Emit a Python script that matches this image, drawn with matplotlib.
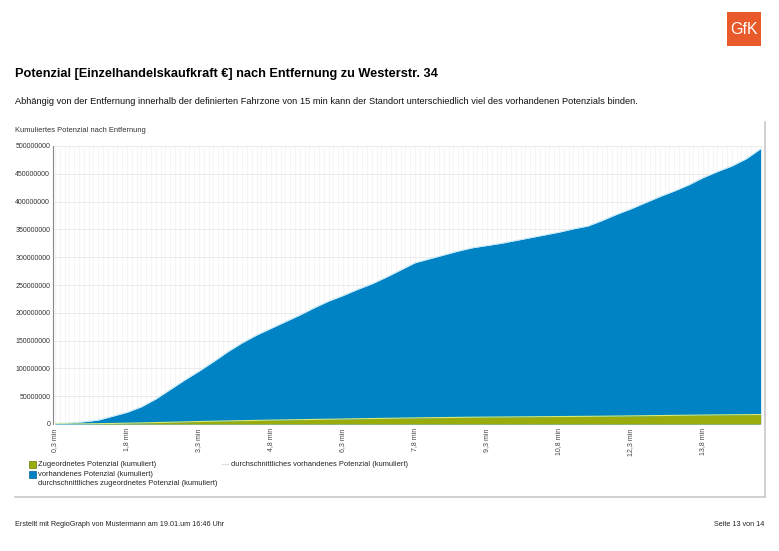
import numpy as np
import matplotlib
matplotlib.use("Agg")
import matplotlib.pyplot as plt
from matplotlib.patches import Rectangle
from matplotlib.lines import Line2D

plt.rcParams['font.family'] = ['Liberation Sans', 'DejaVu Sans']

# ---- data (minutes, values in EUR) ----
minutes = [0.3, 0.6, 0.9, 1.2, 1.5, 1.8, 2.1, 2.4, 2.7, 3.0,
           3.3, 3.6, 3.9, 4.2, 4.5, 4.8, 5.1, 5.4, 5.7, 6.0,
           6.3, 6.6, 6.9, 7.2, 7.5, 7.8, 8.1, 8.4, 8.7, 9.0,
           9.3, 9.6, 9.9, 10.2, 10.5, 10.8, 11.1, 11.4, 11.7, 12.0,
           12.3, 12.6, 12.9, 13.2, 13.5, 13.8, 14.1, 14.4, 14.7, 15.0]
vorhanden_mio = [1, 2, 4, 7, 14, 21, 31, 45, 62, 79,
                 95, 112, 130, 146, 160, 172, 184, 196, 209, 221,
                 231, 242, 252, 264, 277, 290, 297, 304, 311, 317,
                 321, 325, 330, 335, 340, 345, 351, 356, 366, 377,
                 387, 398, 409, 419, 430, 443, 454, 464, 477, 495]
zugeordnet_mio = [0.0, 0.1, 0.3, 0.6, 1.0, 1.5, 2.0, 2.6, 3.2, 3.8,
                  4.4, 5.0, 5.5, 6.0, 6.5, 7.0, 7.4, 7.8, 8.2, 8.6,
                  9.0, 9.4, 9.8, 10.2, 10.6, 11.0, 11.3, 11.6, 11.9, 12.2,
                  12.4, 12.6, 12.8, 13.0, 13.2, 13.4, 13.6, 13.8, 14.0, 14.3,
                  14.6, 14.9, 15.2, 15.5, 15.8, 16.1, 16.4, 16.6, 16.8, 17.0]
tick_minutes = [0.3, 1.8, 3.3, 4.8, 6.3, 7.8, 9.3, 10.8, 12.3, 13.8]
tick_labels = ["0,3 min", "1,8 min", "3,3 min", "4,8 min", "6,3 min",
               "7,8 min", "9,3 min", "10,8 min", "12,3 min", "13,8 min"]
y_ticks = [0, 50000000, 100000000, 150000000, 200000000, 250000000,
           300000000, 350000000, 400000000, 450000000, 500000000]

x = np.array(minutes)
vorh = np.array(vorhanden_mio) * 1e6
zug = np.array(zugeordnet_mio) * 1e6

W, H = 779, 551
fig = plt.figure(figsize=(W / 100, H / 100), dpi=100)
fig.patch.set_facecolor('white')

def fx(px):
    return px / W

def fy(py):
    return 1 - py / H

# ---- header ----
logo = Rectangle((fx(727), fy(46)), 34 / W, 34 / H, transform=fig.transFigure,
                 facecolor='#e95a2b', edgecolor='none')
fig.patches.append(logo)
fig.text(fx(744), fy(30), "GfK", color='white', fontsize=11.5, ha='center', va='center')

fig.text(fx(15), fy(74), "Potenzial [Einzelhandelskaufkraft €] nach Entfernung zu Westerstr. 34",
         fontsize=9.2, fontweight='bold', ha='left', va='center', color='black')
fig.text(fx(15), fy(101), "Abhängig von der Entfernung innerhalb der definierten Fahrzone von 15 min kann der Standort unterschiedlich viel des vorhandenen Potenzials binden.",
         fontsize=6.65, ha='left', va='center', color='#111111')
fig.text(fx(15), fy(131), "Kumuliertes Potenzial nach Entfernung",
         fontsize=5.4, ha='left', va='center', color='#333333')

# panel border lines (right & bottom)
fig.add_artist(Line2D([fx(15), fx(765)], [fy(496.5), fy(496.5)], transform=fig.transFigure,
                      color='#c8c8c8', lw=1.2))
fig.add_artist(Line2D([fx(765), fx(765)], [fy(496.5), fy(122)], transform=fig.transFigure,
                      color='#c8c8c8', lw=1.2))

# ---- chart ----
left, right, top, bottom = 53, 762, 146, 424
ax = fig.add_axes([fx(left), fy(bottom), (right - left) / W, (bottom - top) / H])
ax.set_facecolor('white')

ax.fill_between(x, 0, vorh, color='#0083c4', lw=0, zorder=2)
ax.plot(x, vorh, color='#c4e8f6', lw=0.7, zorder=3)
ax.fill_between(x, 0, zug, color='#9aab0c', lw=0, zorder=4)
ax.plot(x, zug, color='#d6ec7a', lw=0.8, zorder=5)

ax.set_xlim(0.3 - 2 / 48, 0.3 + (right - 55) / 48)
ax.set_ylim(0, 500000000)

ax.set_yticks(y_ticks)
ax.set_yticklabels([str(v) for v in y_ticks])
ax.set_xticks(tick_minutes)
ax.set_xticklabels(tick_labels, rotation=90)
ax.set_xticks(np.arange(0.3, 15.05, 0.1), minor=True)
ax.tick_params(axis='x', which='both', length=0, pad=3, labelsize=5, labelcolor='#444444')
ax.tick_params(axis='y', length=0, pad=2, labelsize=5, labelcolor='#333333')

ax.grid(True, which='major', axis='y', color='#e8e8e8', lw=0.6, zorder=0)
ax.grid(True, which='both', axis='x', color='#f1f1f1', lw=0.5, zorder=0)
ax.set_axisbelow(True)

for s in ['top', 'right', 'bottom']:
    ax.spines[s].set_visible(False)
ax.spines['left'].set_color('#888888')
ax.spines['left'].set_linewidth(0.8)

# ---- legend ----
fs = 5.4
fig.patches.append(Rectangle((fx(29), fy(468)), 7 / W, 7 / H, transform=fig.transFigure,
                             facecolor='#9aab0c', edgecolor='#6d7a08', lw=0.5))
fig.text(fx(38), fy(464.5), "Zugeordnetes Potenzial (kumuliert)", fontsize=fs, va='center', color='#222222')
fig.patches.append(Rectangle((fx(29), fy(478)), 7 / W, 7 / H, transform=fig.transFigure,
                             facecolor='#0083c4', edgecolor='#005f90', lw=0.5))
fig.text(fx(38), fy(474), "vorhandenes Potenzial (kumuliert)", fontsize=fs, va='center', color='#222222')
fig.text(fx(38), fy(483.5), "durchschnittliches zugeordnetes Potenzial (kumuliert)", fontsize=fs, va='center', color='#222222')
fig.add_artist(Line2D([fx(222), fx(228)], [fy(464), fy(464)], transform=fig.transFigure,
                      color='#dddddd', lw=0.8))
fig.text(fx(231), fy(464.5), "durchschnittliches vorhandenes Potenzial (kumuliert)", fontsize=fs, va='center', color='#222222')

# ---- footer ----
fig.text(fx(15), fy(524), "Erstellt mit RegioGraph von Mustermann am 19.01.um 16:46 Uhr",
         fontsize=5.2, va='center', color='#222222')
fig.text(fx(764), fy(524), "Seite 13 von 14", fontsize=5.2, va='center', ha='right', color='#222222')

fig.savefig("out.png", dpi=100, facecolor='white')
